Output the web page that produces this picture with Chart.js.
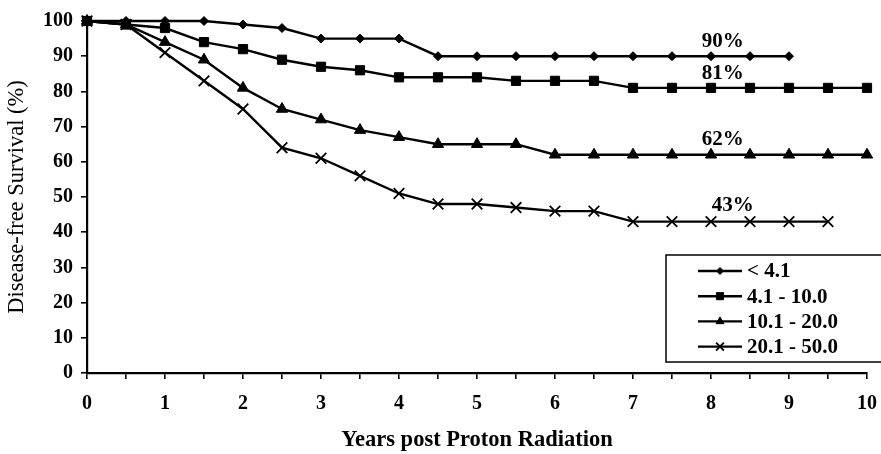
<!DOCTYPE html>
<html>
<head>
<meta charset="utf-8">
<script src="https://cdn.jsdelivr.net/npm/chart.js@4.4.1/dist/chart.umd.min.js"></script>
<style>
  html, body { margin: 0; padding: 0; background: #ffffff; }
  canvas { display: block; }
</style>
</head>
<body>
<canvas id="c" width="881" height="454"></canvas>
<script>
// ---- data ----
const years = [0, 0.5, 1, 1.5, 2, 2.5, 3, 3.5, 4, 4.5, 5, 5.5, 6, 6.5, 7, 7.5, 8, 8.5, 9, 9.5, 10];
const seriesNames = ['< 4.1', '4.1 - 10.0', '10.1 - 20.0', '20.1 - 50.0'];
const lt4_1   = [100, 100, 100, 100, 99, 98, 95, 95, 95, 90, 90, 90, 90, 90, 90, 90, 90, 90, 90, null, null];
const r4_10   = [100, 99, 98, 94, 92, 89, 87, 86, 84, 84, 84, 83, 83, 83, 81, 81, 81, 81, 81, 81, 81];
const r10_20  = [100, 99, 94, 89, 81, 75, 72, 69, 67, 65, 65, 65, 62, 62, 62, 62, 62, 62, 62, 62, 62];
const r20_50  = [100, 99, 91, 83, 75, 64, 61, 56, 51, 48, 48, 47, 46, 46, 43, 43, 43, 43, 43, 43, null];
const endLabels = ['90%', '81%', '62%', '43%'];
const yTicksMax = 100;

const FONT = "'Liberation Serif', 'Times New Roman', serif";

function pts(vals) {
  return years.map((x, i) => ({ x: x, y: vals[i] })).filter(p => p.y !== null);
}

const styles = [
  { pointStyle: 'rectRot',  radius: 4.5, lr: 3.5, bw: 1 },
  { pointStyle: 'rect',     radius: 6.5, lr: 5,   bw: 1 },
  { pointStyle: 'triangle', radius: 6.5, lr: 4.5, bw: 1 },
  { pointStyle: 'crossRot', radius: 7.5, lr: 5.5, bw: 1.8 }
];
const allSeries = [lt4_1, r4_10, r10_20, r20_50];

const datasets = allSeries.map((s, i) => ({
  label: seriesNames[i],
  data: pts(s),
  borderColor: '#000',
  backgroundColor: '#000',
  borderWidth: 2.4,
  pointStyle: styles[i].pointStyle,
  pointRadius: styles[i].radius,
  pointBorderWidth: styles[i].bw,
  pointBackgroundColor: '#000',
  pointBorderColor: '#000',
  tension: 0,
  clip: false
}));

// end-of-curve percentage annotations (positions in data units)
const annotationPlugin = {
  id: 'endLabels',
  afterDatasetsDraw(chart, args, opts) {
    const ctx = chart.ctx;
    const xs = chart.scales.x, ys = chart.scales.y;
    ctx.save();
    ctx.fillStyle = '#000';
    ctx.font = "bold 21px " + FONT;
    ctx.textAlign = 'center';
    ctx.textBaseline = 'middle';
    opts.items.forEach(it => {
      ctx.fillText(it.text, xs.getPixelForValue(it.x), ys.getPixelForValue(it.y));
    });
    ctx.restore();
  }
};

// boxed legend inside plot area
const boxLegend = {
  id: 'boxLegend',
  afterDraw(chart, args, opts) {
    const ctx = chart.ctx;
    ctx.save();
    ctx.strokeStyle = '#000';
    ctx.lineWidth = 1.5;
    ctx.strokeRect(opts.left, opts.top, opts.width, opts.height);
    chart.data.datasets.forEach((ds, i) => {
      const y = opts.rowTop + i * opts.rowGap;
      ctx.strokeStyle = '#000';
      ctx.lineWidth = 2.4;
      ctx.beginPath();
      ctx.moveTo(opts.lineX0, y);
      ctx.lineTo(opts.lineX1, y);
      ctx.stroke();
      ctx.fillStyle = '#000';
      ctx.lineWidth = styles[i].bw;
      Chart.helpers.drawPoint(ctx, {
        pointStyle: ds.pointStyle, radius: styles[i].lr, rotation: 0, borderWidth: styles[i].bw
      }, (opts.lineX0 + opts.lineX1) / 2, y);
      ctx.font = "bold 21px " + FONT;
      ctx.textAlign = 'left';
      ctx.textBaseline = 'middle';
      ctx.fillText(ds.label, opts.textX, y + 1);
    });
    ctx.restore();
  }
};

new Chart(document.getElementById('c'), {
  type: 'line',
  data: { datasets: datasets },
  plugins: [annotationPlugin, boxLegend],
  options: {
    responsive: false,
    animation: false,
    devicePixelRatio: 1,
    layout: { padding: { top: 21, right: 14, left: 0, bottom: 0 } },
    plugins: {
      legend: { display: false },
      tooltip: { enabled: false },
      endLabels: {
        items: [
          { text: endLabels[0], x: 8.15, y: 94.2 },
          { text: endLabels[1], x: 8.15, y: 85.2 },
          { text: endLabels[2], x: 8.15, y: 66.3 },
          { text: endLabels[3], x: 8.28, y: 47.5 }
        ]
      },
      boxLegend: {
        left: 666, top: 255, width: 230, height: 107,
        lineX0: 698, lineX1: 742, textX: 747,
        rowTop: 271, rowGap: 25.2
      }
    },
    scales: {
      x: {
        type: 'linear',
        min: 0, max: 10,
        afterFit(scale) { scale.height = 81; scale.paddingLeft = 0; scale.paddingRight = 0; },
        border: { color: '#000', width: 2.2 },
        grid: { display: true, drawOnChartArea: false, drawTicks: true, tickLength: 6, color: '#000', lineWidth: 1.6 },
        ticks: {
          stepSize: 0.5, autoSkip: false, maxRotation: 0,
          color: '#000', padding: 13,
          font: { family: FONT, size: 20, weight: 'bold' },
          callback: v => Number.isInteger(v) ? String(v) : ''
        },
        title: {
          display: true, text: 'Years post Proton Radiation', color: '#000',
          font: { family: FONT, size: 22.5, weight: 'bold' },
          padding: { top: 0, bottom: 0 }
        }
      },
      y: {
        type: 'linear',
        min: 0, max: yTicksMax,
        afterFit(scale) { scale.width = 87; scale.paddingTop = 0; scale.paddingBottom = 0; },
        border: { color: '#000', width: 2.2 },
        grid: { display: true, drawOnChartArea: false, drawTicks: true, tickLength: 6, color: '#000', lineWidth: 1.6 },
        ticks: {
          stepSize: 10, color: '#000', padding: 8,
          font: { family: FONT, size: 20, weight: 'bold' }
        },
        title: {
          display: true, text: 'Disease-free Survival (%)', color: '#000',
          font: { family: FONT, size: 22.5, weight: 'normal' },
          padding: { top: 4, bottom: 0 }
        }
      }
    }
  }
});
</script>
</body>
</html>
